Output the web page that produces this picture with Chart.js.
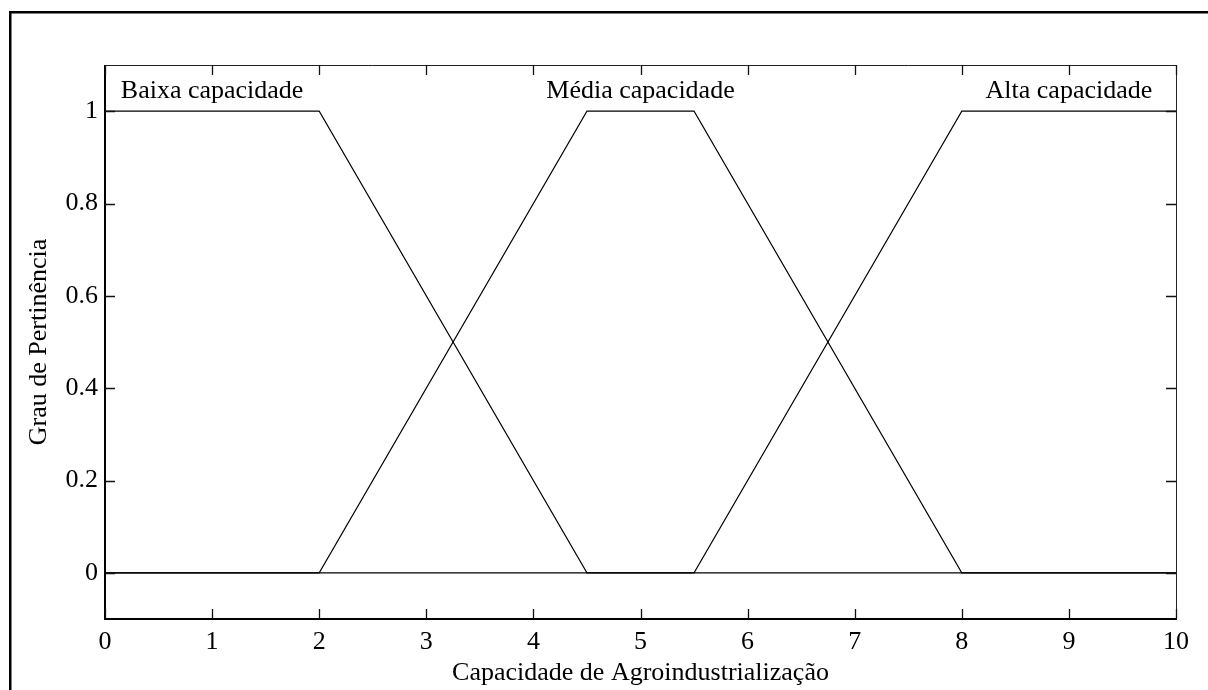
<!DOCTYPE html>
<html>
<head>
<meta charset="utf-8">
<script src="https://cdn.jsdelivr.net/npm/chart.js@4"></script>
<style>
  html, body { margin: 0; padding: 0; background: #fff; }
  #wrap { width: 1208px; height: 690px; position: relative; }
</style>
</head>
<body>
<div id="wrap"><canvas id="c" width="1208" height="690"></canvas></div>
<script>
// ---- data ----
const xTickValues = [0, 1, 2, 3, 4, 5, 6, 7, 8, 9, 10];
const yTickValues = [0, 0.2, 0.4, 0.6, 0.8, 1];
const yTickLabels = ['0', '0.2', '0.4', '0.6', '0.8', '1'];

const baixaX = [0, 2, 4.5, 10];
const baixaY = [1, 1, 0, 0];
const mediaX = [0, 2, 4.5, 5.5, 8, 10];
const mediaY = [0, 0, 1, 1, 0, 0];
const altaX = [0, 5.5, 8, 10];
const altaY = [0, 0, 1, 1];

const mfNames = ['Baixa capacidade', 'Média capacidade', 'Alta capacidade'];
const mfCenters = [1, 5, 9];
const mfLabelLevel = 1.028;

const xTitle = 'Capacidade de Agroindustrialização';
const yTitle = 'Grau de Pertinência';

const FONT = 'Liberation Serif, Times New Roman, serif';
const FS = 26;

function pts(xs, ys) { return xs.map((x, i) => ({ x: x, y: ys[i] })); }

const lineStyle = { borderColor: '#000', borderWidth: 1.1, pointRadius: 0, fill: false, tension: 0 };

const decor = {
  id: 'decor',
  beforeDraw(chart) {
    const ctx = chart.ctx;
    ctx.save();
    ctx.fillStyle = '#fff';
    ctx.fillRect(0, 0, chart.width, chart.height);
    // outer figure frame
    ctx.fillStyle = '#000';
    ctx.fillRect(9, 11, 2.5, chart.height);
    ctx.fillRect(9, 11, chart.width, 2.5);
    ctx.restore();
  },
  afterDraw(chart) {
    const ctx = chart.ctx;
    const a = chart.chartArea;
    const xs = chart.scales.x, ys = chart.scales.y;
    ctx.save();
    // axes box
    ctx.strokeStyle = '#222';
    ctx.lineWidth = 1;
    ctx.beginPath();
    ctx.moveTo(a.left, a.top + 0.5); ctx.lineTo(a.right, a.top + 0.5);
    ctx.moveTo(a.right + 0.5, a.top); ctx.lineTo(a.right + 0.5, a.bottom);
    ctx.stroke();
    ctx.strokeStyle = '#000';
    ctx.lineWidth = 2;
    ctx.beginPath();
    ctx.moveTo(a.left, a.top); ctx.lineTo(a.left, a.bottom + 1);
    ctx.moveTo(a.left - 1, a.bottom); ctx.lineTo(a.right + 1, a.bottom);
    ctx.stroke();
    // inward ticks
    const tl = 10;
    ctx.strokeStyle = '#111';
    ctx.lineWidth = 1.3;
    ctx.beginPath();
    xTickValues.forEach(v => {
      const px = Math.round(xs.getPixelForValue(v)) + 0.5;
      ctx.moveTo(px, a.bottom); ctx.lineTo(px, a.bottom - tl);
      ctx.moveTo(px, a.top); ctx.lineTo(px, a.top + tl);
    });
    yTickValues.forEach(v => {
      const py = Math.round(ys.getPixelForValue(v)) + 0.5;
      ctx.moveTo(a.left, py); ctx.lineTo(a.left + tl, py);
      ctx.moveTo(a.right, py); ctx.lineTo(a.right - tl, py);
    });
    ctx.stroke();
    // membership function names
    ctx.fillStyle = '#000';
    ctx.font = FS + 'px ' + FONT;
    ctx.textAlign = 'center';
    ctx.textBaseline = 'alphabetic';
    mfNames.forEach((n, i) => {
      ctx.fillText(n, xs.getPixelForValue(mfCenters[i]), ys.getPixelForValue(mfLabelLevel));
    });
    ctx.restore();
  }
};

new Chart(document.getElementById('c'), {
  type: 'line',
  data: {
    datasets: [
      Object.assign({ label: mfNames[0], data: pts(baixaX, baixaY) }, lineStyle),
      Object.assign({ label: mfNames[1], data: pts(mediaX, mediaY) }, lineStyle),
      Object.assign({ label: mfNames[2], data: pts(altaX, altaY) }, lineStyle)
    ]
  },
  options: {
    responsive: false,
    animation: false,
    devicePixelRatio: 1,
    layout: { padding: { left: 0, right: 32, top: 65, bottom: 0 } },
    plugins: { legend: { display: false }, tooltip: { enabled: false } },
    scales: {
      x: {
        type: 'linear', min: 0, max: 10,
        afterBuildTicks(s) { s.ticks = xTickValues.map(v => ({ value: v })); },
        afterFit(s) { s.height = 71; },
        grid: { display: false, drawTicks: false },
        border: { display: false },
        ticks: { color: '#000', font: { family: FONT, size: FS }, padding: 8, maxRotation: 0,
          callback: v => String(v) },
        title: { display: true, text: xTitle, color: '#000', font: { family: FONT, size: FS },
          padding: { top: 0, bottom: 1 } }
      },
      y: {
        type: 'linear', min: -0.1, max: 1.1,
        afterBuildTicks(s) { s.ticks = yTickValues.map(v => ({ value: v })); },
        afterFit(s) { s.width = 105; },
        grid: { display: false, drawTicks: false },
        border: { display: false },
        ticks: { color: '#000', font: { family: FONT, size: FS }, padding: 7,
          callback: (v) => yTickLabels[yTickValues.indexOf(v)] ?? String(v) },
        title: { display: true, text: yTitle, color: '#000', font: { family: FONT, size: FS },
          padding: { top: 24, bottom: 0 } }
      }
    }
  },
  plugins: [decor]
});
</script>
</body>
</html>
